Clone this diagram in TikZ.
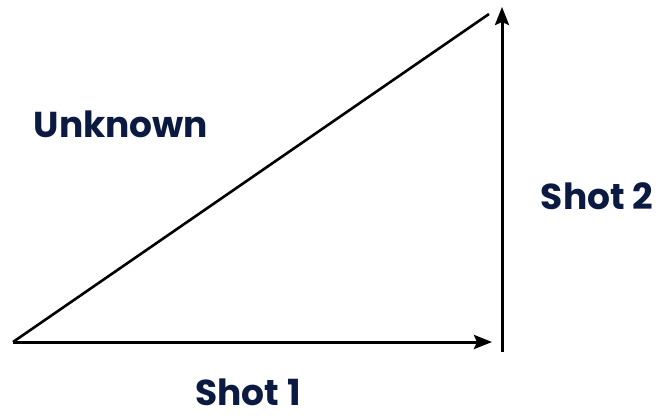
\documentclass[tikz,border=0pt]{standalone}
\usepackage{fontspec}
\setmainfont{Poppins}[BoldFont={* Bold}]
\usetikzlibrary{arrows.meta}
\definecolor{navy}{HTML}{0B1A40}
\tikzset{
  lbl/.style={text=navy,font=\bfseries\fontsize{36}{40}\selectfont,inner sep=0pt},
  arr/.style={line width=3pt,-{Stealth[length=18pt,width=14pt,inset=3pt]}},
  ln/.style={line width=2.6pt}
}
\begin{document}
\begin{tikzpicture}[x=1pt,y=-1pt]
\useasboundingbox (0,0) rectangle (672,417);
\coordinate (o) at (13,342);
\coordinate (h) at (492,342);
\coordinate (vb) at (502,352);
\coordinate (vt) at (502,7);
\coordinate (t) at (489,14);
\draw[arr] (o) -- (h);
\draw[arr] (vb) -- (vt);
\draw[ln] (o) -- (t);
\node[lbl] (unk) at (121,124) {Unknown};
\node[lbl] (s2) at (597,196) {Shot 2};
\node[lbl] (s1) at (248,392) {Shot 1};
\end{tikzpicture}
\end{document}
